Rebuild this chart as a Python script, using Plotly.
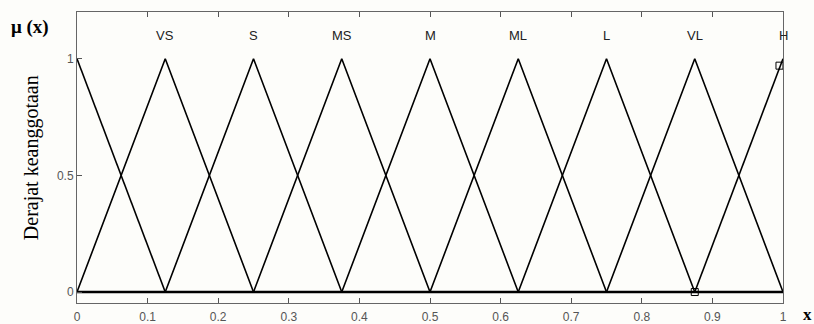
import plotly.graph_objects as go

# membership function peaks (triangular, evenly spaced)
centers = [0.0, 0.125, 0.25, 0.375, 0.5, 0.625, 0.75, 0.875, 1.0]
labels = ["", "VS", "S", "MS", "M", "ML", "L", "VL", "H"]
peaks = [1, 1, 1, 1, 1, 1, 1, 1, 1]
x_ticks = [0, 0.1, 0.2, 0.3, 0.4, 0.5, 0.6, 0.7, 0.8, 0.9, 1]
x_ticktext = ["0", "0.1", "0.2", "0.3", "0.4", "0.5", "0.6", "0.7", "0.8", "0.9", "1"]
y_ticks = [0, 0.5, 1]
y_ticktext = ["0", "0.5", "1"]
# selection handles drawn by the editor
handle_x = [0.875, 0.995]
handle_y = [0.0, 0.97]

fig = go.Figure()

for i, c in enumerate(centers):
    xs, ys = [], []
    if i > 0:
        xs.append(centers[i - 1]); ys.append(0)
    xs.append(c); ys.append(peaks[i])
    if i < len(centers) - 1:
        xs.append(centers[i + 1]); ys.append(0)
    fig.add_trace(go.Scatter(x=xs, y=ys, mode="lines",
                             line=dict(color="black", width=1.6),
                             hoverinfo="skip", showlegend=False))

# thick base line where all the feet overlap
fig.add_trace(go.Scatter(x=[centers[0], centers[-1]], y=[0, 0], mode="lines",
                         line=dict(color="black", width=2.6),
                         hoverinfo="skip", showlegend=False))

fig.add_trace(go.Scatter(x=handle_x, y=handle_y, mode="markers",
                         marker=dict(symbol="square-open", size=7,
                                     color="black", line=dict(width=1)),
                         hoverinfo="skip", showlegend=False))

for c, lab in zip(centers, labels):
    if lab:
        fig.add_annotation(x=c, y=1.1, text=lab, showarrow=False,
                           font=dict(family="Liberation Sans", size=13, color="#222"))

fig.add_annotation(xref="paper", yref="paper", x=-0.096, y=0.948, text="<b>μ (x)</b>",
                   showarrow=False, xanchor="left", yanchor="middle",
                   font=dict(family="Liberation Serif", size=19, color="black"))
fig.add_annotation(xref="paper", yref="paper", x=1.035, y=-0.04, text="<b>x</b>",
                   showarrow=False, xanchor="center", yanchor="middle",
                   font=dict(family="Liberation Serif", size=17, color="black"))
fig.add_annotation(xref="paper", yref="paper", x=-0.065, y=0.498,
                   text="Derajat keanggotaan", showarrow=False, textangle=-90,
                   xanchor="center", yanchor="middle",
                   font=dict(family="Liberation Serif", size=20, color="black"))

fig.update_xaxes(range=[0, 1], tickvals=x_ticks, ticktext=x_ticktext,
                 ticks="inside", ticklen=5, tickcolor="#555", mirror="allticks",
                 showline=True, linecolor="#666", linewidth=1, showgrid=False,
                 zeroline=False, ticklabelstandoff=3, automargin=False,
                 tickfont=dict(family="Liberation Sans", size=12, color="#555"))
fig.update_yaxes(range=[-0.047, 1.2], tickvals=y_ticks, ticktext=y_ticktext,
                 ticks="inside", ticklen=5, tickcolor="#555", mirror=True,
                 showline=True, linecolor="#666", linewidth=1, showgrid=False,
                 zeroline=False, automargin=False,
                 tickfont=dict(family="Liberation Sans", size=12, color="#555"))

fig.update_layout(width=814, height=324, margin=dict(l=77, r=31, t=12, b=21),
                  paper_bgcolor="#fdfdfa", plot_bgcolor="#fdfdfa")

fig.write_html("out.html", config={"displayModeBar": False},
               post_script="document.body.style.margin='0';")
